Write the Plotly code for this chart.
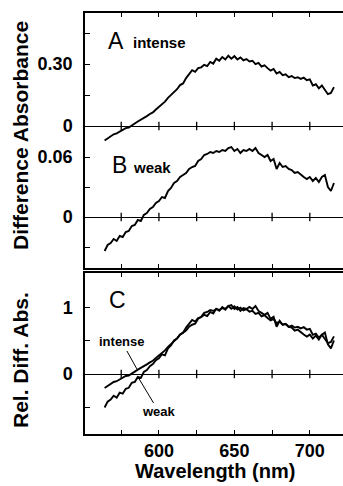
import plotly.graph_objects as go

# ---- data ----
wavelength_nm = list(range(564, 717, 2))

intense_abs = [
    -0.070, -0.060, -0.052, -0.040, -0.036, -0.028, -0.022, -0.010, -0.008, 0.004,
    0.012, 0.022, 0.030, 0.036, 0.048, 0.058, 0.066, 0.080, 0.092, 0.108,
    0.118, 0.136, 0.150, 0.168, 0.178, 0.198, 0.206, 0.232, 0.252, 0.270,
    0.262, 0.280, 0.284, 0.296, 0.290, 0.310, 0.302, 0.326, 0.316, 0.334,
    0.322, 0.340, 0.326, 0.338, 0.322, 0.332, 0.318, 0.324, 0.312, 0.316,
    0.300, 0.306, 0.288, 0.294, 0.280, 0.268, 0.276, 0.254, 0.262, 0.246,
    0.250, 0.236, 0.242, 0.232, 0.236, 0.228, 0.234, 0.222, 0.226, 0.196,
    0.202, 0.182, 0.196, 0.176, 0.154, 0.160, 0.188,
]

weak_abs = [
    -0.034, -0.028, -0.026, -0.022, -0.024, -0.019, -0.020, -0.015, -0.014, -0.009,
    -0.008, -0.003, -0.004, 0.002, 0.004, 0.008, 0.010, 0.014, 0.016, 0.020,
    0.019, 0.026, 0.029, 0.034, 0.036, 0.040, 0.042, 0.044, 0.048, 0.050,
    0.051, 0.056, 0.058, 0.062, 0.063, 0.065, 0.064, 0.066, 0.065, 0.067,
    0.066, 0.069, 0.070, 0.066, 0.068, 0.064, 0.067, 0.066, 0.068, 0.066,
    0.069, 0.064, 0.062, 0.060, 0.062, 0.056, 0.058, 0.048, 0.054, 0.050,
    0.051, 0.048, 0.047, 0.044, 0.045, 0.042, 0.040, 0.038, 0.040, 0.036,
    0.039, 0.035, 0.040, 0.042, 0.030, 0.026, 0.034,
]

intense_peak = 0.33
weak_peak = 0.067
rel_intense = [v / intense_peak for v in intense_abs]
rel_weak = [v / weak_peak for v in weak_abs]

x_ticks = [575, 600, 625, 650, 675, 700]
x_ticktext = ["", "600", "", "650", "", "700"]
a_ticks = [0, 0.15, 0.30, 0.45]
a_ticktext = ["0", "", "0.30", ""]
b_ticks = [-0.03, 0, 0.03, 0.06]
b_ticktext = ["", "0", "", "0.06"]
c_ticks = [-0.5, 0, 0.5, 1]
c_ticktext = ["", "0", "", "1"]

FONT = "Liberation Sans, Arial, sans-serif"
W, H = 343, 486


def py(px):
    return 1 - px / H


fig = go.Figure()
line = dict(color="black", width=1.9)
fig.add_trace(go.Scatter(x=wavelength_nm, y=intense_abs, mode="lines", line=line, xaxis="x", yaxis="y"))
fig.add_trace(go.Scatter(x=wavelength_nm, y=weak_abs, mode="lines", line=line, xaxis="x2", yaxis="y2"))
fig.add_trace(go.Scatter(x=wavelength_nm, y=rel_intense, mode="lines", line=line, xaxis="x3", yaxis="y3"))
fig.add_trace(go.Scatter(x=wavelength_nm, y=rel_weak, mode="lines", line=line, xaxis="x3", yaxis="y3"))

# tick marks across the zero lines
for xa, ya in (("x", "y"), ("x2", "y2"), ("x3", "y3")):
    fig.add_trace(go.Scatter(
        x=x_ticks, y=[0] * len(x_ticks), mode="markers", xaxis=xa, yaxis=ya,
        marker=dict(symbol="line-ns", size=6, line=dict(color="black", width=1.3)),
    ))

x_range = [551, 722]
x_dom = [85 / W, 1.0]
tickfont = dict(family=FONT, size=18, color="black", weight="bold")

common_x = dict(range=x_range, domain=x_dom, showline=True, linecolor="black", linewidth=1.5,
                ticks="inside", ticklen=4, tickwidth=1.3, tickcolor="black",
                tickvals=x_ticks, showgrid=False, zeroline=False)
common_y = dict(showline=True, linecolor="black", linewidth=1.5, ticks="inside", ticklen=5,
                tickwidth=1.3, tickcolor="black", showgrid=False, zeroline=True,
                zerolinecolor="black", zerolinewidth=1.4, tickfont=tickfont,
                ticklabelstandoff=7)

fig.update_layout(
    width=W, height=H, margin=dict(l=0, r=0, t=0, b=0),
    paper_bgcolor="white", plot_bgcolor="rgba(0,0,0,0)", showlegend=False,
    xaxis=dict(common_x, anchor="y", side="top", showticklabels=False),
    yaxis=dict(common_y, anchor="x", domain=[py(145), py(13)], range=[-0.092, 0.547],
               tickvals=a_ticks, ticktext=a_ticktext),
    xaxis2=dict(common_x, anchor="y2", side="bottom", showticklabels=False),
    yaxis2=dict(common_y, anchor="x2", domain=[py(268), py(140)], range=[-0.051, 0.077],
                tickvals=b_ticks, ticktext=b_ticktext),
    xaxis3=dict(common_x, anchor="y3", side="bottom", mirror="ticks", ticktext=x_ticktext,
                tickfont=dict(family=FONT, size=18, color="black", weight="bold"),
                ticklabelstandoff=0),
    yaxis3=dict(common_y, anchor="x3", domain=[py(434), py(273)], range=[-0.909, 1.530],
                tickvals=c_ticks, ticktext=c_ticktext),
)

ann_font = dict(family=FONT, color="black")


def paper_text(text, xpx, ypx, size, bold=False, angle=0, xanchor="center"):
    fig.add_annotation(text=text, x=xpx / W, y=py(ypx), xref="paper", yref="paper",
                       showarrow=False, textangle=angle, xanchor=xanchor, yanchor="middle",
                       font=dict(ann_font, size=size, weight="bold" if bold else "normal"))


paper_text("Difference Absorbance", 20, 136, 21, bold=True, angle=-90)
paper_text("Rel. Diff. Abs.", 20, 360, 21, bold=True, angle=-90)
paper_text("Wavelength (nm)", 215, 471, 20, bold=True)
paper_text("A", 106, 41, 23, xanchor="left")
paper_text("intense", 131, 43, 15, bold=True, xanchor="left")
paper_text("B", 110, 165, 23, xanchor="left")
paper_text("weak", 131, 167, 15, bold=True, xanchor="left")
paper_text("C", 107, 300, 23, xanchor="left")

fig.add_annotation(x=585.4, y=0.076, xref="x3", yref="y3", text="intense", showarrow=True,
                   arrowhead=0, arrowwidth=1, arrowcolor="black", ax=-15, ay=-27,
                   font=dict(ann_font, size=13, weight="bold"))
fig.add_annotation(x=586.1, y=-0.045, xref="x3", yref="y3", text="weak", showarrow=True,
                   arrowhead=0, arrowwidth=1, arrowcolor="black", ax=21, ay=35,
                   font=dict(ann_font, size=13, weight="bold"))

fig.write_html("out.html")
